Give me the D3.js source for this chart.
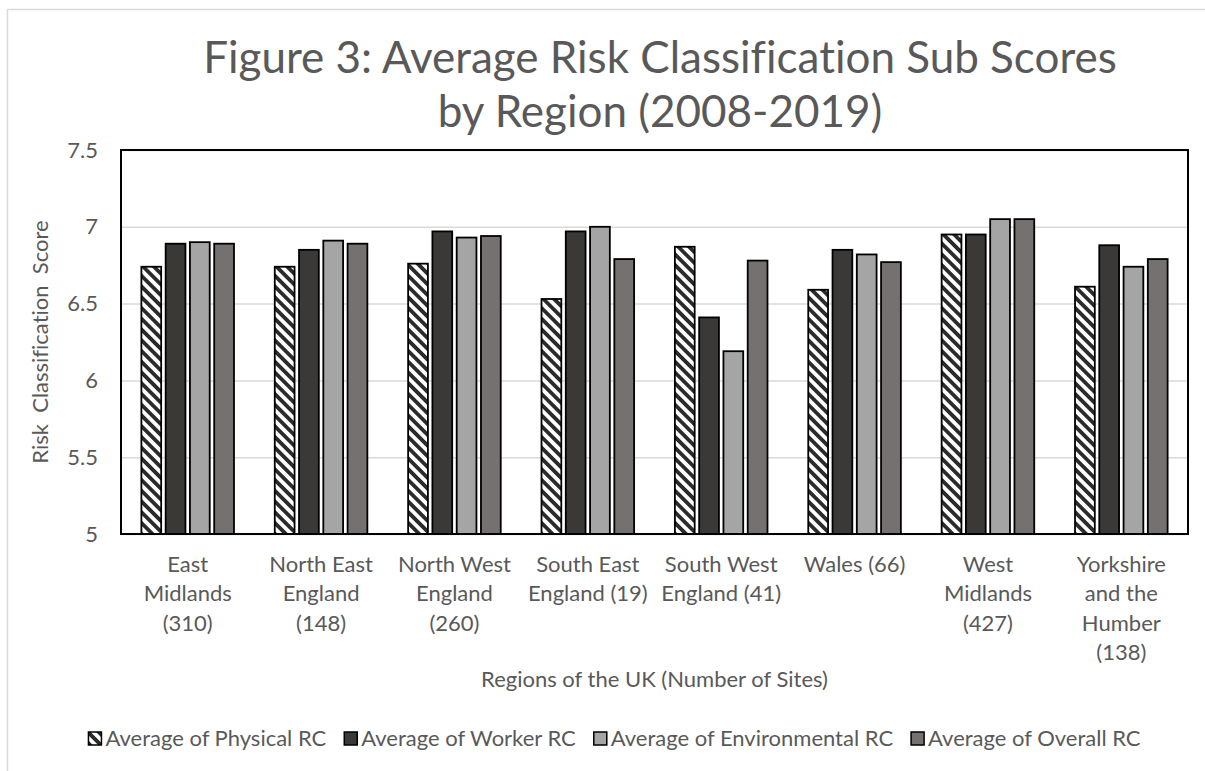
<!DOCTYPE html>
<html>
<head>
<meta charset="utf-8">
<script src="https://cdn.jsdelivr.net/npm/d3@7"></script>
<style>
  body { margin: 0; background: #fff; }
  text { font-family: Lato, "Open Sans", sans-serif; fill: #595959; font-variant-ligatures: none; }
</style>
</head>
<body>
<svg id="chart" width="1205" height="771"></svg>
<script>
// Regions (with number of sites) shown along the x axis, one array of lines per label
const regionLabels = [
  ["East", "Midlands", "(310)"],
  ["North East", "England", "(148)"],
  ["North West", "England", "(260)"],
  ["South East", "England (19)"],
  ["South West", "England (41)"],
  ["Wales (66)"],
  ["West", "Midlands", "(427)"],
  ["Yorkshire", "and the", "Humber", "(138)"]
];
const regions = regionLabels.map(l => l.join(" "));

const seriesNames = [
  "Average of Physical RC",
  "Average of Worker RC",
  "Average of Environmental RC",
  "Average of Overall RC"
];

// Average sub scores per region
const physical      = [6.74, 6.74, 6.76, 6.53, 6.87, 6.59, 6.95, 6.61];
const worker        = [6.89, 6.85, 6.97, 6.97, 6.41, 6.85, 6.95, 6.88];
const environmental = [6.90, 6.91, 6.93, 7.00, 6.19, 6.82, 7.05, 6.74];
const overall       = [6.89, 6.89, 6.94, 6.79, 6.78, 6.77, 7.05, 6.79];

const yTicks = [5, 5.5, 6, 6.5, 7, 7.5];

const seriesValues = [physical, worker, environmental, overall];
const seriesFill = ["url(#hatch)", "#3b3838", "#a5a5a5", "#767171"];

const svg = d3.select("#chart");

// Diagonal hatch used by the Physical series
const defs = svg.append("defs");
const pat = defs.append("pattern")
  .attr("id", "hatch")
  .attr("patternUnits", "userSpaceOnUse")
  .attr("width", 7.6).attr("height", 7.6)
  .attr("patternTransform", "rotate(-45)");
pat.append("rect").attr("width", 7.6).attr("height", 7.6).attr("fill", "#fff");
pat.append("rect").attr("width", 3.8).attr("height", 7.6).attr("fill", "#2b2b2b");

// Chart area outline
svg.append("path")
  .attr("d", "M7.5,771 V9.5 H1205")
  .attr("fill", "none")
  .attr("stroke", "#d9d9d9")
  .attr("stroke-width", 1.5);

const plot = { left: 121, right: 1188, top: 150, bottom: 534 };

const x0 = d3.scaleBand()
  .domain(regions)
  .range([plot.left, plot.right])
  .paddingInner(0).paddingOuter(0);

const x1 = d3.scaleBand()
  .domain(seriesNames)
  .range([0, x0.bandwidth()])
  .paddingInner(0.185)
  .paddingOuter(0.84);

const y = d3.scaleLinear()
  .domain([5, 7.5])
  .range([plot.bottom, plot.top]);

// Gridlines
svg.append("g")
  .attr("transform", `translate(${plot.left},0)`)
  .call(d3.axisLeft(y).tickValues(yTicks).tickSize(-(plot.right - plot.left)).tickFormat(""))
  .call(g => g.select(".domain").remove())
  .call(g => g.selectAll("line").attr("stroke", "#d9d9d9").attr("stroke-width", 1.5));

// Y tick labels
svg.append("g")
  .attr("transform", `translate(${plot.left},0)`)
  .call(d3.axisLeft(y).tickValues(yTicks).tickSize(0).tickPadding(23).tickFormat(d3.format("")))
  .call(g => g.select(".domain").remove())
  .call(g => g.selectAll("text")
    .attr("font-size", 22)
    .style("font-family", "Lato, sans-serif")
    .attr("fill", "#595959"));

// Bars
const groups = svg.append("g")
  .selectAll("g")
  .data(regions)
  .join("g")
  .attr("transform", d => `translate(${x0(d)},0)`);

groups.selectAll("rect")
  .data((d, i) => seriesNames.map((s, k) => ({ s, k, v: seriesValues[k][i] })))
  .join("rect")
  .attr("x", d => x1(d.s))
  .attr("y", d => y(d.v))
  .attr("width", x1.bandwidth())
  .attr("height", d => y(5) - y(d.v))
  .attr("fill", d => seriesFill[d.k])
  .attr("stroke", "#000")
  .attr("stroke-width", 1.8);

// Plot area frame
svg.append("rect")
  .attr("x", plot.left).attr("y", plot.top)
  .attr("width", plot.right - plot.left)
  .attr("height", plot.bottom - plot.top)
  .attr("fill", "none")
  .attr("stroke", "#000")
  .attr("stroke-width", 2);

// X category labels (multi-line)
const xAxis = svg.append("g")
  .attr("transform", `translate(0,${plot.bottom})`)
  .call(d3.axisBottom(x0).tickSize(0).tickFormat(""))
  .call(g => g.select(".domain").remove());

xAxis.selectAll(".tick").each(function (d, i) {
  const t = d3.select(this).select("text")
    .attr("y", 0).attr("dy", null)
    .attr("font-size", 22)
    .style("font-family", "Lato, sans-serif")
    .attr("fill", "#595959")
    .attr("text-anchor", "middle");
  regionLabels[i].forEach((line, j) => {
    t.append("tspan").attr("x", 0).attr("y", 38 + j * 29.3).text(line);
  });
});

// Axis titles
svg.append("text")
  .attr("x", (plot.left + plot.right) / 2)
  .attr("y", 687)
  .attr("text-anchor", "middle")
  .attr("font-size", 22)
  .text("Regions of the UK (Number of Sites)");

svg.append("text")
  .attr("transform", `translate(48,${(plot.top + plot.bottom) / 2}) rotate(-90)`)
  .attr("text-anchor", "middle")
  .attr("font-size", 22)
  .style("white-space", "pre")
  .text("Risk  Classification  Score");

// Title
const title = svg.append("text")
  .attr("text-anchor", "middle")
  .attr("font-size", 44);
title.append("tspan").attr("x", 660).attr("y", 73).text("Figure 3: Average Risk Classification Sub Scores");
title.append("tspan").attr("x", 660).attr("y", 127).text("by Region (2008-2019)");

// Legend
const legend = svg.append("g").attr("transform", "translate(0,746)");
const items = legend.selectAll("g").data(seriesNames).join("g");
items.append("rect")
  .attr("x", 0).attr("y", -14)
  .attr("width", 13).attr("height", 13)
  .attr("fill", (d, k) => seriesFill[k])
  .attr("stroke", "#000")
  .attr("stroke-width", 1.5);
items.append("text")
  .attr("x", 17).attr("y", 0)
  .attr("font-size", 22)
  .text(d => d);

let cursor = 0;
const widths = [];
items.each(function () {
  const w = 17 + d3.select(this).select("text").node().getComputedTextLength();
  widths.push(w);
});
const total = d3.sum(widths) + 18 * (widths.length - 1);
cursor = 614.5 - total / 2;
items.each(function (d, k) {
  d3.select(this).attr("transform", `translate(${cursor},0)`);
  cursor += widths[k] + 18;
});
</script>
</body>
</html>
